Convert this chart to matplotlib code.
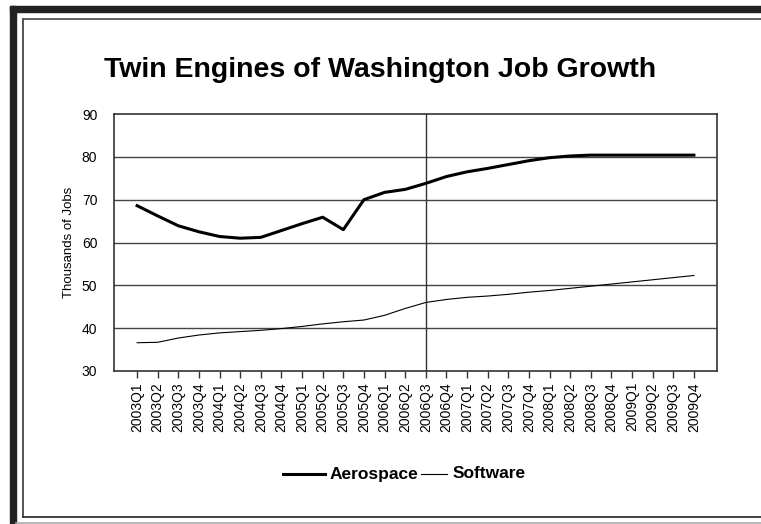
import matplotlib
matplotlib.use("Agg")
import matplotlib.pyplot as plt
from matplotlib.patches import Rectangle
from matplotlib.lines import Line2D

plt.rcParams['font.family'] = ['Liberation Sans', 'DejaVu Sans']

quarters = [f"{y}Q{q}" for y in range(2003, 2010) for q in range(1, 5)]

aerospace = [68.6, 66.2, 63.9, 62.5, 61.4, 61.0, 61.2, 62.8, 64.4, 65.9, 63.0,
             70.0, 71.7, 72.4, 73.8, 75.4, 76.5, 77.3, 78.2, 79.1, 79.8, 80.2,
             80.4, 80.4, 80.4, 80.4, 80.4, 80.4]
software = [36.6, 36.7, 37.7, 38.4, 38.9, 39.2, 39.5, 39.9, 40.4, 41.0, 41.5,
            41.9, 43.0, 44.6, 46.0, 46.7, 47.2, 47.5, 47.9, 48.4, 48.8, 49.3,
            49.8, 50.3, 50.8, 51.3, 51.8, 52.3]

title = "Twin Engines of Washington Job Growth"
y_label = "Thousands of Jobs"
marker_quarter = "2006Q3"

W, H = 761, 524
fig = plt.figure(figsize=(W / 100, H / 100), dpi=100)


def fx(px):
    return px / W


def fy(py):
    return 1 - py / H


# page frame: heavy top/left bands, thin inner box, light bottom rule
fig.patches.append(Rectangle((fx(10), fy(12)), fx(W - 10), 6 / H,
                             transform=fig.transFigure, color="#222222", zorder=0))
fig.patches.append(Rectangle((fx(10), 0), 6 / W, fy(6),
                             transform=fig.transFigure, color="#222222", zorder=0))
fig.lines.append(Line2D([fx(22.5), fx(22.5)], [fy(18.5), fy(517)],
                        transform=fig.transFigure, color="#444444", lw=1.3))
fig.lines.append(Line2D([fx(22.5), 1], [fy(18.5), fy(18.5)],
                        transform=fig.transFigure, color="#555555", lw=1.3))
fig.lines.append(Line2D([fx(22.5), 1], [fy(517), fy(517)],
                        transform=fig.transFigure, color="#333333", lw=1.3))
fig.lines.append(Line2D([fx(16), 1], [fy(523), fy(523)],
                        transform=fig.transFigure, color="#aaaaaa", lw=1.2))

ax = fig.add_axes([fx(114), fy(371), (717 - 114) / W, (371 - 114) / H])

x = list(range(len(quarters)))
aero_line, = ax.plot(x, aerospace, color="black", lw=2.2, zorder=3,
                     solid_joinstyle="round")
soft_line, = ax.plot(x, software, color="black", lw=0.8, zorder=3)

ax.axvline(quarters.index(marker_quarter), color="#333333", lw=1.0, zorder=2)

ax.set_ylim(30, 90)
ax.set_yticks(range(30, 91, 10))
ax.set_xlim(-1.12, len(quarters) - 1 + 1.12)
ax.set_xticks(x)
ax.set_xticklabels(quarters, rotation=90, fontsize=10)
ax.tick_params(axis="x", length=5, width=1, color="#333333", pad=3)
ax.tick_params(axis="y", length=0, pad=12, labelsize=10)
for t in ax.get_yticklabels():
    t.set_horizontalalignment("right")

for v in range(40, 90, 10):
    ax.axhline(v, color="#444444", lw=1.0, zorder=1)

for s in ax.spines.values():
    s.set_color("#333333")
    s.set_linewidth(1.2)

ax.set_ylabel(y_label, fontsize=9.5, labelpad=5)

fig.text(fx(380), fy(70), title, ha="center", va="center",
         fontsize=20.5, fontweight="bold")

# legend entries laid out on a shared baseline
legend_entries = [
    (aero_line, "Aerospace", 283, 325, 330),
    (soft_line, "Software", 421, 447, 453),
]
key_y = 474
for line, name, x0, x1, tx in legend_entries:
    fig.lines.append(Line2D([fx(x0), fx(x1)], [fy(key_y), fy(key_y)],
                            transform=fig.transFigure, color=line.get_color(),
                            lw=line.get_linewidth()))
    fig.text(fx(tx), fy(key_y + 4.5), name, ha="left", va="baseline",
             fontsize=12.5, fontweight="bold")

fig.savefig("out.png", dpi=100)
